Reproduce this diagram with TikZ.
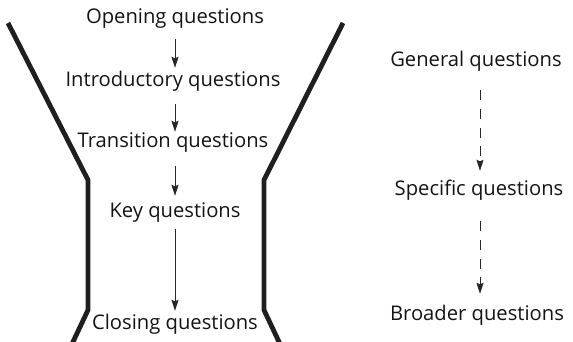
\documentclass[tikz,border=0pt]{standalone}
\usepackage{fontspec}
\setmainfont{Open Sans}
\usetikzlibrary{arrows.meta}
\begin{document}
\begin{tikzpicture}[x=1pt,y=-1pt,
  lbl/.style={inner sep=0pt, text height=14pt, text depth=4pt, anchor=base, font=\fontsize{20.2}{22}\selectfont, text=black!92},
  funnel/.style={line width=4.8pt, draw=black!88, line join=miter},
  arr/.style={line width=0.9pt, draw=black!85, -{Stealth[length=11pt,width=7pt,inset=1.5pt]}},
  darr/.style={arr, dash pattern=on 10pt off 8.7pt}]
\useasboundingbox (0,0) rectangle (573,342);
% funnel
\draw[funnel] (8,23) -- (88,180) -- (88,310) -- (72,344);
\draw[funnel] (343,23) -- (264,180) -- (264,310) -- (280,344);
% left column
\node[lbl] (op) at (175,24) {Opening questions};
\node[lbl] (in) at (173,87) {Introductory questions};
\node[lbl] (tr) at (173,147) {Transition questions};
\node[lbl] (ke) at (175,217) {Key questions};
\node[lbl] (cl) at (175,329) {Closing questions};
\draw[arr, shorten <=11pt, shorten >=5pt] (op) -- (op |- in.north);
\draw[arr, shorten <=13pt, shorten >=1pt] (in.south -| op) -- (op |- tr.north);
\draw[arr, shorten <=15pt, shorten >=7pt] (tr.south -| op) -- (ke);
\draw[arr, shorten <=8pt, shorten >=4pt] (ke) -- (cl);
% right column
\node[lbl] (ge) at (476,67) {General questions};
\node[lbl] (sp) at (479,195) {Specific questions};
\node[lbl] (br) at (477,320) {Broader questions};
\draw[darr, shorten <=19pt, shorten >=10pt] (ge.south -| 480,0) -- (sp.north -| 480,0);
\draw[darr, shorten <=22pt, shorten >=12pt] (sp.south -| 480,0) -- (br.north -| 480,0);
\end{tikzpicture}
\end{document}
